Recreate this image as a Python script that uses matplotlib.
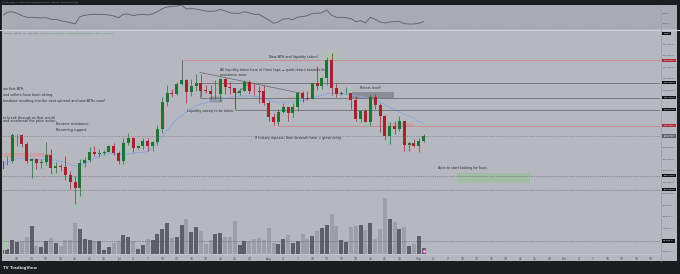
import numpy as np
import pandas as pd
import matplotlib
matplotlib.use("Agg")
from matplotlib import pyplot as plt
from matplotlib.patches import Rectangle
from matplotlib.lines import Line2D
from matplotlib.transforms import blended_transform_factory

# BTC/USDT daily candles, 2025-06-07 .. 2025-09-02 (prices in thousand USDT)
start = pd.Timestamp("2025-06-07")
opens = [104.3, 105.6, 105.7, 110.2, 110.2, 108.6, 105.6, 106.0, 105.4, 105.5,
         106.8, 104.5, 104.8, 104.6, 103.3, 102.1, 100.9, 105.4, 105.9, 107.3,
         106.9, 107.1, 107.3, 108.3, 107.1, 105.7, 108.8, 109.6, 108.0, 108.2,
         109.2, 108.2, 108.9, 111.3, 115.9, 117.5, 117.4, 119.1, 119.8, 117.7,
         118.7, 119.2, 117.95, 117.9, 117.3, 117.4, 119.9, 118.6, 118.3, 117.6,
         117.9, 119.4, 117.9, 117.8, 117.8, 115.7, 113.3, 112.5, 114.2, 115.0,
         114.1, 115.0, 117.5, 116.6, 116.5, 119.3, 118.7, 120.2, 123.3, 118.3,
         117.4, 117.5, 117.5, 116.3, 112.9, 114.3, 112.5, 116.9, 115.4, 113.5,
         110.1, 111.8, 111.3, 112.6, 108.4, 108.8, 108.2, 109.2]
closes = [105.6, 105.7, 110.2, 110.25, 108.6, 105.6, 106.0, 105.4, 105.5, 106.8,
          104.5, 104.8, 104.6, 103.3, 102.1, 100.9, 105.4, 105.9, 107.3, 106.9,
          107.1, 107.3, 108.3, 107.1, 105.7, 108.8, 109.6, 108.0, 108.2, 109.2,
          108.2, 108.9, 111.3, 115.9, 117.5, 117.4, 119.1, 119.8, 117.7, 118.7,
          119.2, 117.9, 117.9, 117.3, 117.4, 119.9, 118.6, 118.3, 117.6, 117.9,
          119.4, 117.9, 117.8, 117.75, 115.7, 113.3, 112.5, 114.2, 115.0, 114.1,
          115.0, 117.5, 116.6, 116.5, 119.3, 118.7, 120.2, 123.3, 118.3, 117.4,
          117.5, 117.55, 116.3, 112.9, 114.3, 112.5, 116.9, 115.4, 113.5, 110.1,
          111.8, 111.3, 112.6, 108.4, 108.8, 108.2, 109.2, 110.0]
highs = [105.9, 106.5, 110.5, 110.4, 110.4, 108.9, 106.2, 106.2, 106.1, 108.9,
         107.7, 105.5, 105.2, 106.5, 104.0, 103.0, 106.0, 106.3, 108.1, 108.2,
         107.7, 107.6, 108.5, 108.8, 107.5, 109.7, 110.5, 109.8, 108.4, 109.7,
         109.7, 109.2, 111.9, 116.9, 118.9, 118.2, 119.5, 123.2, 119.9, 120.0,
         120.9, 120.8, 118.9, 118.9, 119.7, 120.2, 120.1, 119.5, 118.4, 118.3,
         119.8, 119.8, 119.3, 118.8, 118.9, 116.1, 114.0, 114.7, 115.7, 115.1,
         115.7, 117.7, 117.9, 117.9, 119.3, 122.3, 120.3, 123.7, 124.5, 119.2,
         117.9, 118.6, 117.6, 117.0, 114.6, 114.8, 117.4, 117.4, 115.8, 113.7,
         112.4, 112.6, 113.5, 112.7, 108.9, 109.5, 109.6, 110.4]
lows = [103.9, 105.0, 105.3, 108.3, 108.1, 105.3, 102.7, 104.3, 104.5, 104.9,
        103.4, 103.6, 103.9, 102.3, 100.8, 98.2, 99.6, 104.6, 105.5, 106.6,
        106.3, 106.8, 107.2, 106.7, 105.2, 105.1, 108.5, 107.2, 107.8, 107.8,
        107.5, 107.4, 108.4, 110.6, 115.2, 116.9, 117.2, 118.9, 115.7, 117.0,
        117.8, 116.8, 117.5, 116.5, 116.5, 116.1, 117.3, 117.4, 114.7, 117.2,
        117.9, 117.4, 117.1, 115.8, 115.5, 112.7, 112.0, 111.9, 114.1, 112.6,
        113.4, 114.3, 115.9, 116.3, 116.5, 118.1, 118.2, 118.9, 117.2, 116.8,
        117.2, 117.3, 114.7, 112.7, 112.4, 112.4, 111.7, 114.7, 110.8, 109.3,
        108.7, 110.4, 110.9, 107.5, 107.4, 108.1, 107.3, 108.9]
# volume, thousand BTC
volumes = [4.8, 2.8, 8.4, 7.4, 7.8, 10.0, 16.8, 4.8, 4.0, 7.8,
           9.4, 6.8, 4.8, 8.2, 8.2, 18.8, 14.8, 9.2, 8.2, 7.6,
           7.8, 2.4, 4.2, 6.4, 7.8, 11.4, 10.4, 7.8, 3.0, 5.4,
           8.8, 8.4, 11.8, 15.0, 18.4, 9.4, 10.0, 17.4, 20.8, 13.4,
           16.2, 14.0, 5.8, 8.4, 11.8, 12.4, 10.4, 10.4, 19.6, 5.2,
           8.0, 8.0, 8.8, 9.4, 8.2, 15.8, 6.8, 5.8, 9.2, 11.2,
           6.8, 8.0, 11.8, 8.8, 11.0, 14.0, 15.4, 17.6, 23.8, 17.0,
           8.2, 7.2, 16.4, 17.0, 17.6, 14.4, 18.4, 8.8, 15.2, 33.4,
           21.0, 19.0, 14.8, 16.0, 4.6, 5.8, 10.8, 3.8]
rsi = [55.4, 62.0, 63.2, 60.0, 55.3, 52.0, 52.0, 51.3, 50.6, 51.3,
       48.0, 48.0, 45.3, 43.3, 41.3, 38.6, 53.3, 56.0, 57.3, 58.0,
       58.0, 58.0, 56.6, 54.6, 51.3, 58.0, 58.6, 55.3, 57.3, 58.0,
       56.6, 58.6, 63.2, 69.2, 72.6, 74.0, 74.6, 76.6, 68.6, 69.2,
       68.6, 66.6, 64.6, 64.0, 64.6, 68.0, 64.6, 61.2, 60.0, 60.0,
       63.2, 60.6, 58.0, 58.0, 52.0, 46.6, 40.0, 42.6, 48.6, 49.3,
       47.3, 52.6, 53.3, 55.3, 60.0, 60.0, 61.2, 66.6, 56.0, 52.0,
       52.0, 51.3, 49.3, 43.3, 45.3, 40.6, 52.0, 48.0, 42.6, 40.6,
       42.6, 43.3, 44.0, 39.3, 38.6, 38.6, 40.0, 43.3]
ema = [105.0, 105.4, 105.8, 106.1, 106.2, 106.1, 106.0, 106.0, 105.9, 105.9,
       105.9, 105.8, 105.6, 105.4, 105.1, 104.8, 104.9, 105.3, 105.7, 106.1,
       106.5, 106.9, 107.0, 106.9, 106.8, 106.8, 106.9, 107.0, 107.1, 107.2,
       107.3, 108.0, 109.0, 110.0, 111.0, 112.0, 112.9, 113.6, 114.2, 114.8,
       115.3, 115.6, 115.8, 116.1, 116.3, 116.5, 116.6, 116.8, 116.9, 117.0,
       117.0, 117.0, 116.9, 116.9, 116.7, 116.3, 116.0, 115.9, 115.9, 115.9,
       116.0, 116.1, 116.2, 116.4, 116.7, 116.9, 117.1, 117.4, 117.5, 117.5,
       117.4, 117.3, 117.2, 117.0, 116.9, 116.7, 116.5, 116.2, 116.0, 115.5,
       115.0, 114.6, 114.2, 113.8, 113.5, 113.1, 112.6, 112.2]

# drawn levels (thousand USDT)
ath_level = 123.218
grey_levels = [119.306, 116.702, 114.614]
low_red = 111.822
dotted_levels = [103.118, 100.683, 91.752]

price_ticks = [90, 94, 96, 98, 100, 102, 104, 106, 108, 118, 120, 122, 124, 126]

W, H = 680, 274
bg = "#b5b8bf"
rsi_bg = "#a8abb2"
dark = "#1c1d21"
up = "#1f7434"
down = "#a2222e"
txt = "#2a2c32"
lab = 1.75


def fx(p):
    return p / W


def fy(p):
    return 1 - p / H


n = len(closes)
idx = np.arange(n)
o = np.array(opens)
c = np.array(closes)
colors = np.where(c >= o, up, down)
vcolors = np.where(c >= o, "#5d6066", "#9c9fa6")

fig = plt.figure(figsize=(6.8, 2.74), dpi=100, facecolor=bg)

vax = fig.add_axes([fx(3), fy(254), fx(657), 223 / H])
ax = fig.add_axes([fx(3), fy(254), fx(657), 223 / H], sharex=vax)
rax = fig.add_axes([fx(3), fy(29), fx(657), 24 / H])

xl = (0.107, 135.85)

# volume
vax.set_axis_off()
vax.bar(idx, volumes, width=0.82, color=vcolors, lw=0)
vax.scatter(idx[-1:], np.array(volumes[-1:]) / 2, s=5, marker="o",
            fc="#f3d8ee", ec="#cf5fb6", lw=0.6, zorder=3)
vax.set_ylim(0, 133.8)

# candles
ax.patch.set_visible(False)
ax.vlines(idx, lows, highs, colors=colors, lw=0.5, zorder=3)
ax.bar(idx, np.maximum(np.abs(c - o), 0.08), bottom=np.minimum(o, c),
       width=0.62, color=colors, lw=0, zorder=4)
ax.plot(idx, ema, color="#86a3e4", lw=0.6, zorder=2)

ax.set_xlim(*xl)
ax.set_ylim(89.48, 128.31)

# levels
red_c = "#c4878f"
grey_c = "#6c6f76"
ax.hlines(ath_level, 37, 140, color=red_c, lw=0.6)
ax.vlines(37, grey_levels[0], ath_level, color=red_c, lw=0.5)
ax.hlines(grey_levels[:2], 40.8, 140, color=grey_c, lw=0.6)
ax.vlines(40.8, grey_levels[1], grey_levels[0], color=grey_c, lw=0.5)
ax.hlines(grey_levels[2], 48, 140, color=grey_c, lw=0.6)
ax.vlines(48, grey_levels[2], 117.9, color=grey_c, lw=0.5)
ax.hlines(low_red, 56.9, 140, color=red_c, lw=0.6)
ax.vlines(56.9, low_red, grey_levels[2], color=red_c, lw=0.5)
ax.plot([40.8, 61.5], [121.1, 117.5], color=grey_c, lw=0.6)
ax.plot([48.4, 51.1], [117.5, 119.2], color=grey_c, lw=0.5)
ax.hlines(dotted_levels, -1, 140, color="#55585e", lw=0.5, ls=(0, (1, 1.5)), zorder=5)
ax.hlines(closes[-1], -1, 140, color="#6b6e75", lw=0.5, ls=(0, (1, 1.5)), zorder=5)

# zones
ax.add_patch(Rectangle((94.0, 101.8), 15.0, 1.84, fc="#a3bca5", ec="none", zorder=1))
ax.add_patch(Rectangle((-1, 106.42), 10.8, 0.7, fc="#c5a3a9", ec="none", zorder=1))
ax.add_patch(Rectangle((-1, 90.18), 1.9, 2.09, fc="#a9c2aa", ec="none", zorder=1))
ax.add_patch(Rectangle((72.2, 116.7), 8.7, 0.94, fc="#8b8e95", ec="none", zorder=1))
ax.add_patch(Rectangle((79.7, 111.6), 5.1, 0.69, fc="#c7a3a8", ec="none", zorder=1))
ax.add_patch(Rectangle((75.0, 111.54), 1.8, 0.53, fc="#a5c0a8", ec="none", zorder=1))
ax.add_patch(Rectangle((66.8, 123.26), 2.3, 1.17, fc="#a8c4a8", ec="none", zorder=1))
ax.add_patch(Rectangle((58.9, 116.4), 1.9, 0.5, fc="#c7a3a8", ec="none", zorder=1))
ax.add_patch(Rectangle((42.9, 116.0), 2.4, 0.75, fc="#9a9da4", ec=grey_c, lw=0.3, zorder=1))

# notes
fs = 2.4
ax.text(55.1, 123.7, "New ATH and liquidity taken!", fontsize=fs, color=txt, va="center")
ax.text(44.9, 121.9, "All liquidity taken here in three taps \u2192 quick return towards the\nresistance zone.",
        fontsize=fs, color=txt, va="top", linespacing=1.3)
ax.text(38.1, 114.4, "Liquidity sweep to be taken.", fontsize=fs, color=txt, va="center")
ax.text(52.1, 109.6, "If history repeats, then beneath here = great entry.", fontsize=fs, color=txt, va="center")
ax.text(11.1, 112.1, "Became resistance,", fontsize=fs, color=txt, va="center")
ax.text(11.1, 111.0, "Becoming support.", fontsize=fs, color=txt, va="center")
ax.text(73.9, 118.3, "Retest level!", fontsize=fs, color=txt, va="center")
ax.text(90.0, 104.5, "Area to start looking for buys.", fontsize=fs, color=txt, va="center")
left_notes = ["ow first ATH.", "and sellers have been sitting.",
              "breakout resulting into the next uptrend and new ATHs soon!",
              "to break through as that would", "and accelerate the price action."]
for s, p in zip(left_notes, [118.2, 117.2, 116.1, 113.2, 112.6]):
    ax.text(0.2, p, s, fontsize=fs, color=txt, va="center")

# axes styling
for sp in ax.spines.values():
    sp.set_visible(False)
ax.spines["bottom"].set_visible(True)
ax.spines["bottom"].set_color("#c6c8cd")
ax.spines["bottom"].set_linewidth(0.6)

ax.yaxis.tick_right()
ax.set_yticks(price_ticks)
ax.set_yticklabels([f"{v * 1000:,.1f}" for v in price_ticks])
ax.tick_params(axis="y", length=0, pad=2.2, labelsize=lab, labelcolor="#45474d")

dates = pd.date_range("2025-06-10", "2025-10-19")
dates = dates[dates.day.isin(range(1, 29, 3))]
ax.set_xticks([(d - start).days for d in dates])
ax.set_xticklabels([d.strftime("%b") if d.day == 1 else str(d.day) for d in dates])
ax.tick_params(axis="x", length=0, pad=2, labelsize=2.2, labelcolor="#45474d")

tr = blended_transform_factory(ax.transAxes, ax.transData)


def price_tag(level, fc, text=None):
    ax.text(1.005, level, text or f"{level * 1000:,.1f}", transform=tr, fontsize=lab,
            color="white", va="center", ha="left", clip_on=False,
            bbox=dict(boxstyle="square,pad=0.45", fc=fc, ec="none"))


price_tag(ath_level, "#b02a38")
for lv in grey_levels + dotted_levels:
    price_tag(lv, "#131316")
price_tag(low_red, "#b02a38")
price_tag(closes[-1], "#5f6269", f"{closes[-1] * 1000:,.1f}\n15:11:27")
ax.text(1.005, 0.99, "USDT", transform=ax.transAxes, fontsize=lab, color="white",
        va="top", ha="left", clip_on=False,
        bbox=dict(boxstyle="square,pad=0.45", fc="#131316", ec="none"))

ohlc = (f"O{opens[-1] * 1000:,.1f} H{highs[-1] * 1000:,.1f} L{lows[-1] * 1000:,.1f} "
        f"C{closes[-1] * 1000:,.1f} +{(closes[-1] - opens[-1]) * 1000:,.1f} "
        f"(+{(closes[-1] / opens[-1] - 1) * 100:.2f}%)")
fig.text(fx(3.5), fy(33.3), "Bitcoin / Tether \u00b7 1D \u00b7 BINANCE", fontsize=1.6,
         color="#4d4f55", va="center")
fig.text(fx(40), fy(33.3), ohlc, fontsize=1.6, color="#2f7a3e", va="center")

# rsi panel
rax.set_facecolor(rsi_bg)
rax.plot(idx, rsi, color="#5c5f66", lw=0.6)
rax.axhline(30.5, color="#85888e", lw=0.4, ls=(0, (1, 1.5)))
rax.set_xlim(*xl)
rax.set_ylim(28.6, 76.6)
rax.set_xticks([])
rax.yaxis.tick_right()
rax.set_yticks([40, 60])
rax.set_yticklabels(["40.00", "60.00"])
rax.tick_params(axis="y", length=0, pad=2.2, labelsize=lab, labelcolor="#45474d")
for sp in rax.spines.values():
    sp.set_visible(False)

# frame
fig.add_artist(Rectangle((fx(660), fy(29)), fx(17), 24 / H, transform=fig.transFigure,
                         fc=rsi_bg, ec="none", zorder=-1))
fig.add_artist(Line2D([0, 1], [fy(30), fy(30)], transform=fig.transFigure, color="#cfd1d6", lw=0.8))
fig.add_artist(Line2D([fx(660.5), fx(660.5)], [fy(5), fy(261)], transform=fig.transFigure,
                      color="#9a9da4", lw=0.5))
for r in [(0, fy(5), 1, 5 / H), (0, 0, 1, 13 / H), (0, 0, fx(2), 1), (fx(677), 0, fx(3), 1)]:
    fig.add_artist(Rectangle(r[:2], r[2], r[3], transform=fig.transFigure, fc=dark, ec="none"))
fig.text(fx(2.5), fy(2.6), "Cryptollo(B) created with TradingView.com, Sep 01, 2025 08:37 UTC",
         fontsize=1.6, color="#9c9c9c", va="center")
fig.text(fx(3), fy(267.5), "TV TradingView", fontsize=2.8, color="#dcdcdc",
         fontweight="bold", va="center")

fig.savefig("out.png", dpi=100, facecolor=bg)
